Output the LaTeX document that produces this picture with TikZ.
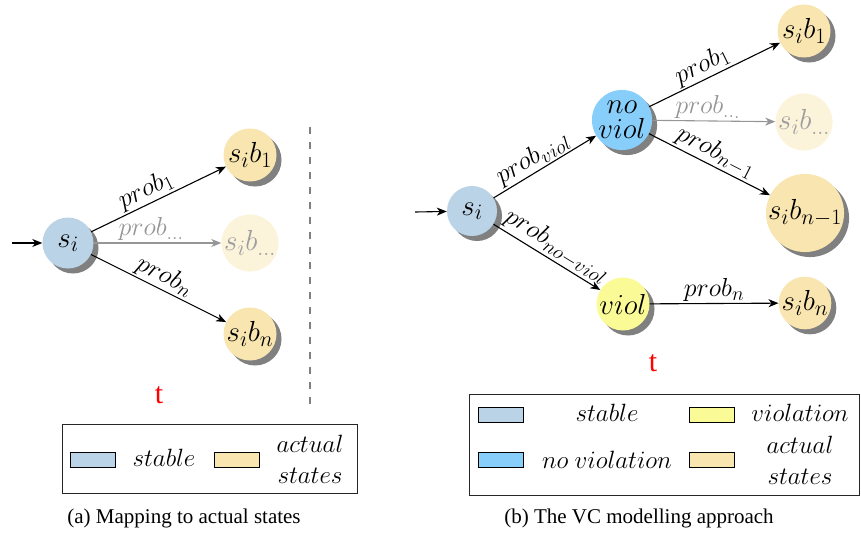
\RequirePackage{fix-cm}
\documentclass[tikz,border=0pt]{standalone}
\usepackage{fontspec}
\setmainfont{Liberation Serif}
\usetikzlibrary{shadows,arrows.meta}
\DeclareMathSizes{29}{29}{22}{17}
\DeclareMathSizes{26}{26}{20}{15}
\DeclareMathSizes{25}{25}{19}{14}
\definecolor{stableC}{RGB}{187,211,230}
\definecolor{noviolC}{RGB}{135,206,250}
\definecolor{violC}{RGB}{250,250,150}
\definecolor{actualC}{RGB}{249,229,175}
\definecolor{shadowC}{RGB}{128,128,128}
\definecolor{fadeC}{RGB}{150,150,150}
\begin{document}
\begin{tikzpicture}[x=1pt,y=-1pt,
  snode/.style={circle, minimum size=51pt, inner sep=0pt,
    font=\fontsize{29}{29}\selectfont,
    drop shadow={shadow xshift=5pt, shadow yshift=-5pt, fill=shadowC, opacity=1}},
  faded/.style={circle, minimum size=51pt, inner sep=0pt,
    font=\fontsize{29}{29}\selectfont, fill=actualC!45, text=black!38},
  arr/.style={-{Stealth[length=10pt,width=8pt,inset=3pt]}, line width=1.1pt},
  garr/.style={arr, draw=fadeC},
  lab/.style={font=\fontsize{26}{26}\selectfont, sloped, above, inner sep=1.5pt},
  glab/.style={lab, text=fadeC},
  legbox/.style={draw=black!85, line width=0.9pt},
  swatch/.style={draw=black, line width=0.8pt, minimum width=45pt, minimum height=15pt, inner sep=0pt},
  legtxt/.style={font=\fontsize{25}{31}\selectfont, align=center},
  redt/.style={text=red, font=\fontsize{30}{30}\selectfont, inner sep=0pt},
  capt/.style={font=\fontsize{21}{24}\selectfont}
]
\useasboundingbox (0,0) rectangle (861,538);

% ---------------- left diagram ----------------
\node[snode, fill=stableC] (siL) at (68,243) {$s_i$};
\node[snode, fill=actualC, minimum size=53pt] (b1L) at (250,155) {$s_ib_1$};
\node[faded, minimum size=53pt] (bdL) at (250,243) {$s_ib_{\ldots}$};
\node[snode, fill=actualC, minimum size=53pt] (bnL) at (250,334) {$s_ib_n$};
\coordinate (inL) at (12,243);
\draw[arr] (inL) -- (siL);
\draw[arr] (siL) -- node[lab, pos=0.45] {$prob_1$} (b1L);
\draw[garr] (siL) -- node[glab, pos=0.45] {$prob_{\ldots}$} (bdL);
\draw[arr] (siL) -- node[lab, pos=0.5] {$prob_n$} (bnL);

\coordinate (d1) at (310,127);
\coordinate (d2) at (310,405);
\draw[shadowC, line width=2.5pt, dash pattern=on 7pt off 8pt] (d1) -- (d2);

\node[redt] (tL) at (159,395) {t};

% left legend
\draw[legbox] (62,424) rectangle (357,493);
\node[swatch, fill=stableC] (lsA) at (92.5,459.5) {};
\node[legtxt] (ltA) at (164,458) {$stable$};
\node[swatch, fill=actualC] (lsB) at (236.5,459.5) {};
\node[legtxt] (ltB) at (310,459) {$actual$\\$states$};

\node[capt] (capA) at (184,518) {(a) Mapping to actual states};

% ---------------- right diagram ----------------
\node[snode, fill=stableC, minimum size=50pt] (siR) at (472,211) {$s_i$};
\node[snode, fill=noviolC, minimum size=55pt, align=center,
      font=\fontsize{29}{28}\selectfont] (nv) at (622,120) {$no$\\[-3pt]$viol$};
\node[snode, fill=violC, minimum size=53pt] (vi) at (623,304) {$viol$};
\node[snode, fill=actualC, minimum size=53pt] (b1R) at (804,31) {$s_ib_1$};
\node[faded, minimum size=53pt] (bdR) at (804,122) {$s_ib_{\ldots}$};
\node[snode, fill=actualC, minimum size=74pt] (bn1R) at (805,213) {$s_ib_{n-1}$};
\node[snode, fill=actualC, minimum size=51pt] (bnR) at (805,303) {$s_ib_n$};
\coordinate (inR) at (415,212);
\draw[arr] (inR) -- (siR);
\draw[arr] (siR) -- node[lab, pos=0.45] {$prob_{viol}$} (nv);
\draw[arr] (siR) -- node[lab, pos=0.52] {$prob_{no-viol}$} (vi);
\draw[arr] (nv) -- node[lab, pos=0.45] {$prob_1$} (b1R);
\draw[garr] (nv) -- node[glab, pos=0.45] {$prob_{\ldots}$} (bdR);
\draw[arr] (nv) -- node[lab, pos=0.5] {$prob_{n-1}$} (bn1R);
\draw[arr] (vi) -- node[lab, pos=0.5] {$prob_n$} (bnR);

\node[redt] (tR) at (653,363) {t};

% right legend
\draw[legbox] (469,394) rectangle (859,495);
\node[swatch, fill=stableC] (rsA) at (500.5,414.5) {};
\node[legtxt] (rtA) at (607,413) {$stable$};
\node[swatch, fill=noviolC] (rsB) at (500.5,460) {};
\node[legtxt] (rtB) at (607,460) {$no\ violation$};
\node[swatch, fill=violC] (rsC) at (712,414.5) {};
\node[legtxt] (rtC) at (800,413) {$violation$};
\node[swatch, fill=actualC] (rsD) at (712,460) {};
\node[legtxt] (rtD) at (800,460) {$actual$\\$states$};

\node[capt] (capB) at (639,518) {(b) The VC modelling approach};
\end{tikzpicture}
\end{document}
